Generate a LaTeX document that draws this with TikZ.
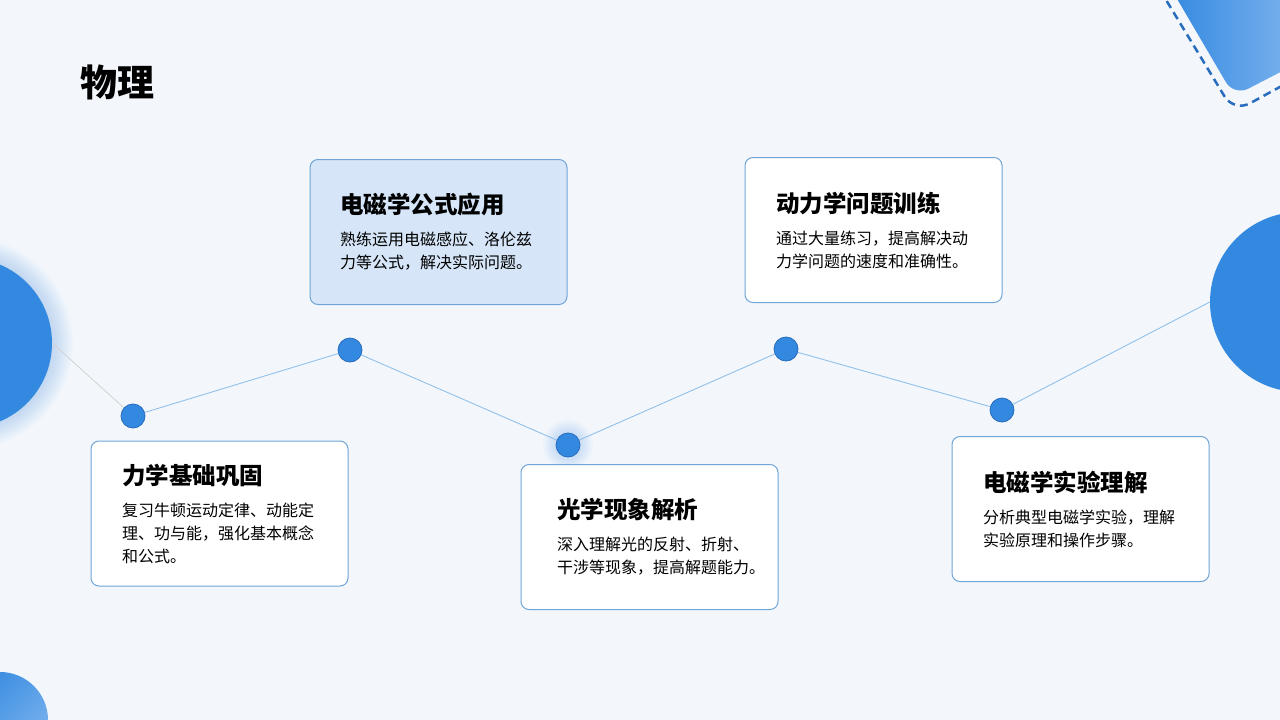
\documentclass[tikz,border=0pt]{standalone}
\usepackage{fontspec}
\setmainfont{Noto Sans CJK SC}
\usetikzlibrary{positioning}
\definecolor{pagebg}{RGB}{243,247,252}
\definecolor{mainblue}{RGB}{51,136,224}
\definecolor{lightblue}{RGB}{125,180,238}
\definecolor{dotline}{RGB}{40,108,190}
\definecolor{cardline}{RGB}{112,165,215}
\definecolor{cardfill}{RGB}{214,230,248}
\definecolor{linkblue}{RGB}{145,192,235}
\newcommand\cardtitle[1]{{\bfseries\fontsize{23.5}{28}\selectfont #1\par}\vspace{9pt}}
\newcommand\cardbody[1]{{\fontsize{16}{23}\selectfont #1\par}}

\begin{document}
\begin{tikzpicture}[
  x=1pt, y=-1pt,
  card/.style={draw=cardline, line width=1pt, rounded corners=8pt, fill=white,
    minimum width=257pt, minimum height=145pt, text width=195pt,
    inner xsep=31pt, inner ysep=0pt, align=left},
  dot/.style={circle, draw=dotline, line width=0.8pt, fill=mainblue, minimum size=24pt, inner sep=0pt},
  bigdot/.style={circle, fill=mainblue, inner sep=0pt},
  link/.style={linkblue, line width=0.9pt}
]
\useasboundingbox (0,0) rectangle (1280,720);
\clip (0,0) rectangle (1280,720);
\fill[pagebg] (0,0) rectangle (1280,720);

% corner decorations
\shade[left color=mainblue, right color=lightblue, rounded corners=16pt]
  (1166,-20) -- (1234,96) -- (1300,62) -- (1300,-20) -- cycle;
\draw[dotline, line width=2.5pt, dash pattern=on 8pt off 5pt, rounded corners=18pt]
  (1160,-10) -- (1234,112) -- (1300,76);
\shade[left color=mainblue, right color=lightblue, shading angle=45]
  (0,720) circle (48);

% side circles with soft glow
\foreach \r in {86,88,...,106}
  \fill[mainblue, opacity=0.022] (-33,343) circle (\r);
\node[bigdot, minimum size=170pt] (lc) at (-33,343) {};
\node[bigdot, minimum size=180pt] (rc) at (1300,302) {};

\node[font=\bfseries\fontsize{37}{40}\selectfont, anchor=west, inner sep=0pt] (ttl) at (80,82) {物理};

% timeline
\foreach \r in {13,15,...,25}
  \fill[mainblue, opacity=0.03] (568,445) circle (\r);
\node[dot] (d1) at (133,416) {};
\node[dot] (d2) at (350,350) {};
\node[dot] (d3) at (568,445) {};
\node[dot] (d4) at (786,349) {};
\node[dot] (d5) at (1002,410) {};

\draw[gray!35, line width=0.8pt] (lc.east) -- (d1);
\draw[link] (d1) -- (d2);
\draw[link] (d2) -- (d3);
\draw[link] (d3) -- (d4);
\draw[link] (d4) -- (d5);
\draw[link] (d5) -- (rc.west);

% cards
\node[card] (c1) at (219.5,513.5) {\cardtitle{力学基础巩固}\cardbody{复习牛顿运动定律、动能定\\理、功与能，强化基本概念\\和公式。}};
\node[card, fill=cardfill, inner xsep=30pt, text width=197pt] (c2) at (438.5,232) {\cardtitle{电磁学公式应用}\cardbody{熟练运用电磁感应、洛伦兹\\力等公式，解决实际问题。}};
\node[card, inner xsep=36pt, text width=185pt] (c3) at (649.5,537) {\cardtitle{光学现象解析}\cardbody{深入理解光的反射、折射、\\干涉等现象，提高解题能力。}};
\node[card] (c4) at (873.5,230) {\cardtitle{动力学问题训练}\cardbody{通过大量练习，提高解决动\\力学问题的速度和准确性。}};
\node[card] (c5) at (1080.5,509) {\cardtitle{电磁学实验理解}\cardbody{分析典型电磁学实验，理解\\实验原理和操作步骤。}};
\end{tikzpicture}
\end{document}
